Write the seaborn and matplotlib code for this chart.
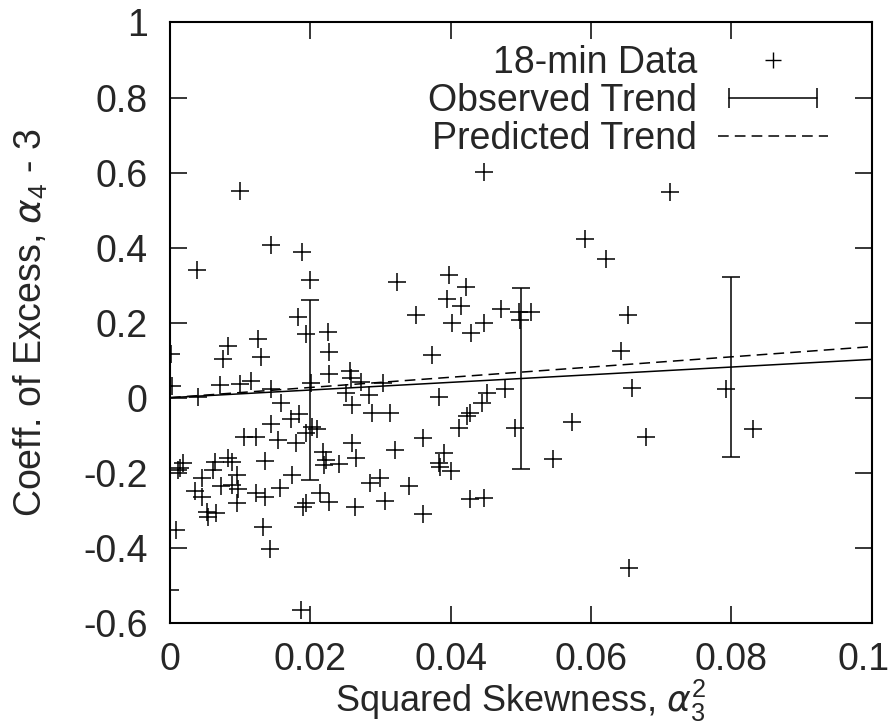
import numpy as np
import pandas as pd
import matplotlib
matplotlib.use("Agg")
import matplotlib.pyplot as plt
import matplotlib.transforms as mtransforms
from matplotlib.lines import Line2D
from matplotlib.legend_handler import HandlerLine2D
import seaborn as sns

# squared skewness / coeff. of excess, 18-min data
skew_sq = [
    0.0100, 0.0144, 0.0188, 0.0039, 0.0199, 0.0183, 0.0194, 0.0225, 0.0083, 0.0125,
    0.0075, 0.0130, 0.0226, 0.0001, 0.0227, 0.0256, 0.0258, 0.0003, 0.0071, 0.0100,
    0.0116, 0.0144, 0.0201, 0.0040, 0.0251,
    0.0158, 0.0259, 0.0184, 0.0172, 0.0144, 0.0203, 0.0210, 0.0194, 0.0106, 0.0123,
    0.0154, 0.0180, 0.0260, 0.0265, 0.0218, 0.0222, 0.0220, 0.0241, 0.0135, 0.0083,
    0.0088, 0.0064, 0.0061, 0.0019, 0.0014, 0.0012, 0.0095, 0.0046, 0.0174, 0.0072,
    0.0089, 0.0097, 0.0157, 0.0035, 0.0046, 0.0123, 0.0135, 0.0095, 0.0214, 0.0226,
    0.0194, 0.0189, 0.0264, 0.0052, 0.0066, 0.0054, 0.0133, 0.0008, 0.0143, 0.0000,
    0.0187,
    0.0448, 0.0398, 0.0323, 0.0422, 0.0395, 0.0415, 0.0350, 0.0471, 0.0402, 0.0447,
    0.0497, 0.0515, 0.0499, 0.0429, 0.0374, 0.0272, 0.0303, 0.0283, 0.0383, 0.0452,
    0.0478,
    0.0288, 0.0313, 0.0445, 0.0428, 0.0423, 0.0412, 0.0492, 0.0361, 0.0321, 0.0390,
    0.0383, 0.0385, 0.0400, 0.0299, 0.0285, 0.0340, 0.0307, 0.0428, 0.0448, 0.0361,
    0.0712, 0.0592, 0.0621, 0.0652, 0.0642, 0.0659,
    0.0573, 0.0678, 0.0546, 0.0654,
    0.0793, 0.0831,
]
excess = [
    0.552, 0.408, 0.389, 0.341, 0.314, 0.216, 0.169, 0.176, 0.139, 0.157,
    0.103, 0.109, 0.123, 0.117, 0.063, 0.072, 0.052, 0.031, 0.034, 0.036,
    0.045, 0.022, 0.038, 0.003, 0.012,
    -0.015, -0.019, -0.043, -0.058, -0.071, -0.077, -0.084, -0.095, -0.104, -0.104,
    -0.113, -0.122, -0.122, -0.162, -0.144, -0.166, -0.179, -0.177, -0.168, -0.162,
    -0.171, -0.171, -0.193, -0.175, -0.188, -0.193, -0.206, -0.215, -0.206, -0.235,
    -0.233, -0.244, -0.240, -0.249, -0.266, -0.255, -0.266, -0.282, -0.255, -0.277,
    -0.282, -0.292, -0.292, -0.304, -0.307, -0.317, -0.344, -0.353, -0.404, -0.513,
    -0.566,
    0.601, 0.327, 0.307, 0.296, 0.263, 0.245, 0.221, 0.236, 0.198, 0.198,
    0.229, 0.227, 0.207, 0.172, 0.114, 0.043, 0.038, 0.007, 0.003, 0.013,
    0.022,
    -0.040, -0.040, -0.015, -0.042, -0.049, -0.080, -0.080, -0.108, -0.139, -0.148,
    -0.173, -0.184, -0.195, -0.215, -0.228, -0.235, -0.275, -0.271, -0.267, -0.310,
    0.547, 0.422, 0.369, 0.221, 0.125, 0.025,
    -0.066, -0.104, -0.163, -0.453,
    0.022, -0.083,
]

# trend lines
trend_x = [0.0, 0.1]
observed_y = [0.0, 0.102]
predicted_y = [0.0, 0.136]

# error bars on the observed trend
err_x = [0.02, 0.05, 0.08]
err_y = [0.0205, 0.051, 0.0815]
err_half = [0.24, 0.24, 0.24]

xticks = [0, 0.02, 0.04, 0.06, 0.08, 0.1]
xtick_labels = ["0", "0.02", "0.04", "0.06", "0.08", "0.1"]
yticks = [-0.6, -0.4, -0.2, 0, 0.2, 0.4, 0.6, 0.8, 1]
ytick_labels = ["-0.6", "-0.4", "-0.2", "0", "0.2", "0.4", "0.6", "0.8", "1"]

sns.set_style("ticks")
plt.rcParams["font.family"] = ["Liberation Sans", "DejaVu Sans"]
plt.rcParams["mathtext.fontset"] = "custom"
plt.rcParams["mathtext.rm"] = "Liberation Sans"
plt.rcParams["mathtext.it"] = "DejaVu Sans:italic"
plt.rcParams["axes.unicode_minus"] = False

FS = 27

fig, ax = plt.subplots(figsize=(8.95, 7.25), dpi=100)
fig.subplots_adjust(left=0.19, right=0.974, bottom=0.141, top=0.969)

df = pd.DataFrame({"skew": skew_sq, "excess": excess})
sns.scatterplot(data=df, x="skew", y="excess", marker="+", color="black",
                s=170, linewidth=1.1, ax=ax, legend=False, zorder=3)

tr = pd.DataFrame({"x": trend_x, "obs": observed_y, "pred": predicted_y})
sns.lineplot(data=tr, x="x", y="obs", color="black", linewidth=1.1, ax=ax)
sns.lineplot(data=tr, x="x", y="pred", color="black", linewidth=1.1,
             linestyle=(0, (7, 4)), ax=ax)
ax.errorbar(err_x, err_y, yerr=err_half, fmt="none", ecolor="black",
            elinewidth=1.1, capsize=6.5, capthick=1.1)

ax.set_xlim(0, 0.1)
ax.set_ylim(-0.6, 1)
ax.set_xticks(xticks)
ax.set_xticklabels(xtick_labels)
ax.set_yticks(yticks)
ax.set_yticklabels(ytick_labels)
ax.tick_params(direction="in", length=12, width=1.3, top=True, right=True,
               labelsize=FS, pad=14)
ax.tick_params(axis="y", pad=16)
for sp in ax.spines.values():
    sp.set_visible(True)
    sp.set_linewidth(1.5)
    sp.set_color("black")

# last x label sits on the figure edge, nudge it in a little
last = ax.get_xticklabels()[-1]
last.set_transform(last.get_transform() +
                   mtransforms.ScaledTranslation(-6 / 72, 0, fig.dpi_scale_trans))

ax.set_xlabel(r"Squared Skewness, $\alpha_3^2$", fontsize=FS - 1, labelpad=0)
ax.set_ylabel(r"Coeff. of Excess, $\alpha_4$ - 3", fontsize=FS, labelpad=24)

# legend like gnuplot: text right-aligned, sample to the right
h_data = Line2D([], [], linestyle="none", marker="+", color="black",
                markersize=12, markeredgewidth=1.0)
h_obs = Line2D([], [], color="black", linewidth=1.1, marker="|",
               markersize=14, markeredgewidth=1.1)
h_pred = Line2D([], [], color="black", linewidth=1.1, linestyle=(0, (7, 4)))
ax.legend([h_data, h_obs, h_pred],
          ["18-min Data", "Observed Trend", "Predicted Trend"],
          handler_map={h_data: HandlerLine2D(numpoints=1),
                       h_obs: HandlerLine2D(numpoints=2)},
          loc="upper right", bbox_to_anchor=(0.938, 0.962),
          frameon=False, markerfirst=False, fontsize=FS,
          handlelength=2.95, handletextpad=0.55, labelspacing=0.05,
          borderpad=0, borderaxespad=0)

plt.savefig("out.png", dpi=100)
